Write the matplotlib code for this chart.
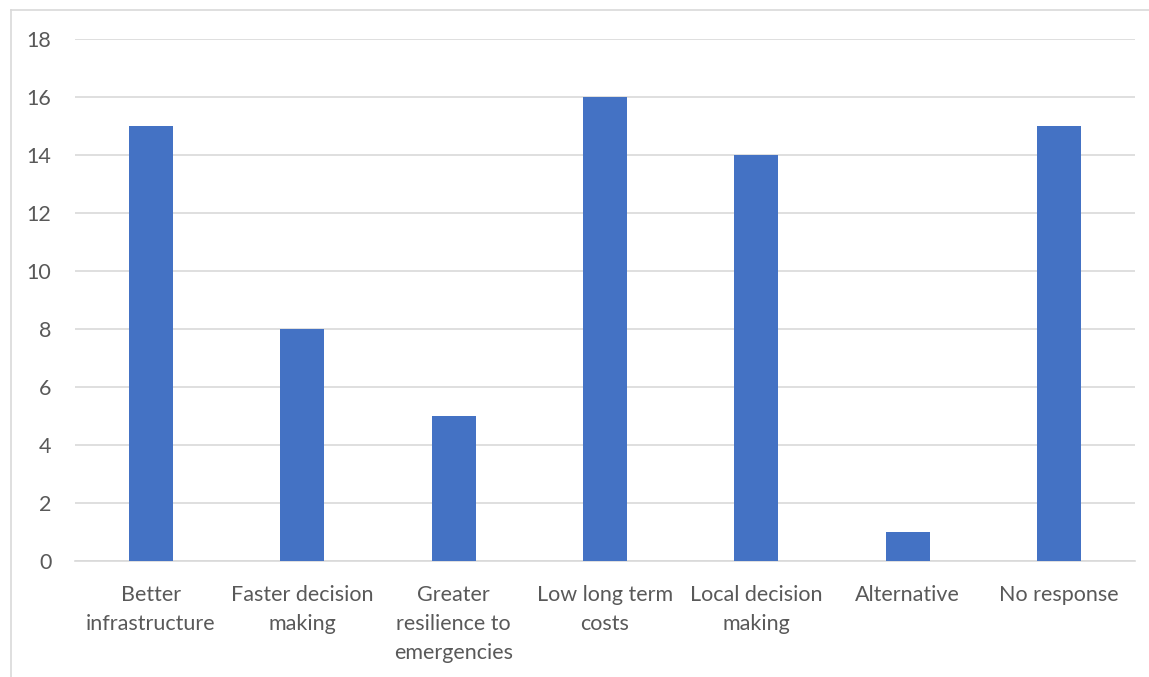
import matplotlib
matplotlib.use('Agg')
import matplotlib.pyplot as plt
import numpy as np

# survey answers
categories = ['Better\ninfrastructure', 'Faster decision\nmaking', 'Greater\nresilience to\nemergencies',
              'Low long term\ncosts', 'Local decision\nmaking', 'Alternative', 'No response']
counts = [15, 8, 5, 16, 14, 1, 15]
yticks = [0, 2, 4, 6, 8, 10, 12, 14, 16, 18]

plt.rcParams['font.family'] = ['Lato', 'DejaVu Sans']
text_color = '#595959'

fig = plt.figure(figsize=(11.49, 6.77), dpi=100)
ax = fig.add_axes([75 / 1149, 1 - 561 / 677, 1060 / 1149, 522 / 677])

x = np.arange(len(categories))
ax.bar(x, counts, width=0.29, color='#4472C4', zorder=3)

ax.set_xlim(-0.5, len(categories) - 0.5)
ax.set_ylim(0, 18)
ax.set_yticks(yticks)
ax.set_xticks(x)
ax.set_xticklabels(categories, fontsize=15.5, color=text_color, linespacing=1.56)
ax.tick_params(axis='y', labelsize=15.5, labelcolor=text_color, length=0, pad=17)
ax.tick_params(axis='x', length=0, pad=17)
ax.grid(axis='y', color='#d9d9d9', linewidth=1.2, zorder=0)
for side in ['top', 'right', 'left']:
    ax.spines[side].set_visible(False)
ax.spines['bottom'].set_color('#d9d9d9')
ax.spines['bottom'].set_linewidth(1.2)

# thin frame round the chart like the original screenshot
fig.add_artist(plt.Line2D([11 / 1149, 11 / 1149], [0, 1 - 10 / 677], color='#d9d9d9', linewidth=1.2,
                          transform=fig.transFigure))
fig.add_artist(plt.Line2D([11 / 1149, 1], [1 - 10 / 677, 1 - 10 / 677], color='#d9d9d9', linewidth=1.2,
                          transform=fig.transFigure))

plt.savefig('out.png', dpi=100)
